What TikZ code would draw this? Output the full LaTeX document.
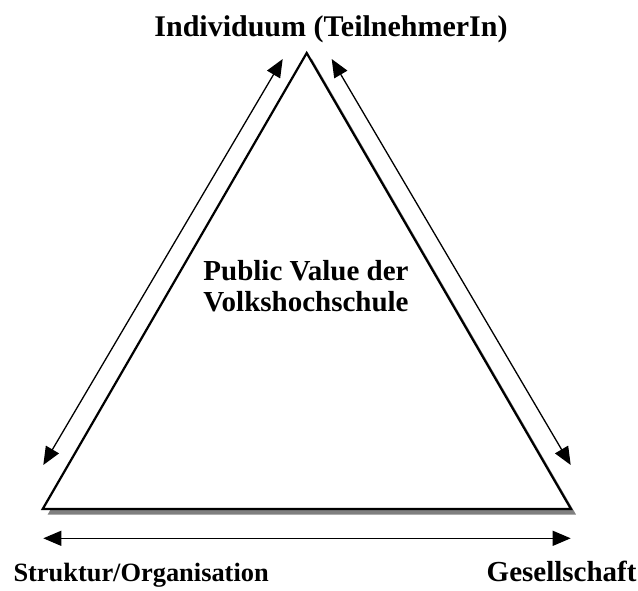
\documentclass[tikz,border=0pt]{standalone}
\usepackage{fontspec}
\setmainfont{Liberation Serif}
\usetikzlibrary{arrows.meta}
\tikzset{
  side/.style={line width=2.2pt, line join=miter, fill=white},
  shadowtri/.style={fill=black!50},
  dblarrow/.style={line width=1.3pt, {Triangle[length=18pt,width=15pt]}-{Triangle[length=18pt,width=15pt]}},
  toplabel/.style={font=\fontsize{30}{35}\selectfont\bfseries, inner sep=0pt, anchor=base},
  midlabel/.style={font=\fontsize{29}{31.6}\selectfont\bfseries, inner sep=0pt, align=center, anchor=base},
  botlabel/.style={inner sep=0pt},
}
\begin{document}
\begin{tikzpicture}[x=1pt,y=-1pt]
\useasboundingbox (0,0) rectangle (638,590);
\coordinate (A) at (306.7,53);
\coordinate (B) at (42.7,509);
\coordinate (C) at (571,509);
\fill[shadowtri] ([shift={(5,5.5)}]A) -- ([shift={(5,5.5)}]B) -- ([shift={(5,5.5)}]C) -- cycle;
\draw[side] (A) -- (B) -- (C) -- cycle;
\coordinate (L1) at (282.7,59);
\coordinate (L2) at (43.3,465);
\coordinate (R1) at (331.7,59);
\coordinate (R2) at (570.7,465);
\coordinate (D1) at (43.3,538.3);
\coordinate (D2) at (570.7,538.3);
\draw[dblarrow] (L1) -- (L2);
\draw[dblarrow] (R1) -- (R2);
\draw[dblarrow] (D1) -- (D2);
\node[toplabel] (top) at (331,36) {Individuum (TeilnehmerIn)};
\node[midlabel] (mid) at (306,311.7) {Public Value der\\Volkshochschule};
\node[botlabel, anchor=base west, font=\fontsize{26.4}{32}\selectfont\bfseries] (left) at (13.3,581.5) {Struktur/Organisation};
\node[botlabel, anchor=base east, font=\fontsize{29}{32}\selectfont\bfseries] (right) at (636.7,581.5) {Gesellschaft};
\end{tikzpicture}
\end{document}
